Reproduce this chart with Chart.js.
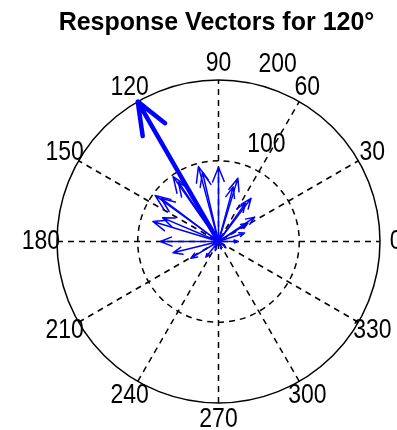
<!DOCTYPE html>
<html><head><meta charset="utf-8">
<script src="https://cdn.jsdelivr.net/npm/chart.js@4"></script>
<style>html,body{margin:0;padding:0;background:#fff}#wrap{width:397px;height:430px}</style>
</head><body><div id="wrap"><canvas id="c" width="397" height="430"></canvas></div>
<script>
const titleText = 'Response Vectors for 120\u00B0';
const mainAngle = [120];
const mainMagnitude = [200];
const vectorAngles     = [90, 105, 103, 125, 124, 144, 143, 163, 157, 180, 194, 211, 231, 73, 75, 53, 55, 34, 32, 18, 0, 250, 290, 320];
const vectorMagnitudes = [92,  96,  88,  98,  89,  97,  89,  85,  75,  72,  58,  40,  25, 82, 70, 67, 58, 54, 43, 34, 24, 12, 10, 12];
const ringValues = [100, 200];
const ringLabels = ['100', '200'];
const angleTicks = [0, 30, 60, 90, 120, 150, 180, 210, 240, 270, 300, 330];
const angleLabels = ['0', '30', '60', '90', '120', '150', '180', '210', '240', '270', '300', '330'];

const rMax = ringValues[ringValues.length - 1];
const deg = Math.PI / 180;

function arrowPoints(angle, mag) {
  const c = Math.cos(angle * deg), s = Math.sin(angle * deg);
  const pts = [[0, 0], [mag, 0], [0.8 * mag, 0.08 * mag], [mag, 0], [0.8 * mag, -0.08 * mag]];
  return pts.map(([u, v]) => ({ x: u * c - v * s, y: u * s + v * c }));
}

const datasets = [];
mainAngle.forEach((a, i) => datasets.push({
  data: arrowPoints(a, mainMagnitude[i]), showLine: true, borderColor: '#0000ff',
  borderWidth: 4.5, pointRadius: 0, borderJoinStyle: 'round', borderCapStyle: 'round', order: 0
}));
vectorAngles.forEach((a, i) => datasets.push({
  data: arrowPoints(a, vectorMagnitudes[i]), showLine: true, borderColor: '#0000ff',
  borderWidth: 1.5, pointRadius: 0, borderJoinStyle: 'round', order: 1
}));

const polarGrid = {
  id: 'polarGrid',
  beforeDatasetsDraw(chart) {
    const { ctx, scales: { x, y } } = chart;
    const cx = x.getPixelForValue(0), cy = y.getPixelForValue(0);
    const px = v => x.getPixelForValue(v) - cx;
    ctx.save();
    ctx.strokeStyle = '#000';
    ctx.lineWidth = 1.5;
    ctx.setLineDash([6, 5]);
    for (let a = 0; a < 180; a += 30) {
      const c = Math.cos(a * deg), s = Math.sin(a * deg);
      ctx.beginPath();
      ctx.moveTo(x.getPixelForValue(-rMax * c), y.getPixelForValue(-rMax * s));
      ctx.lineTo(x.getPixelForValue(rMax * c), y.getPixelForValue(rMax * s));
      ctx.stroke();
    }
    ringValues.forEach((r, i) => {
      ctx.setLineDash(i === ringValues.length - 1 ? [] : [6, 5]);
      ctx.beginPath();
      ctx.arc(cx, cy, px(r), 0, Math.PI * 2);
      ctx.stroke();
    });
    ctx.restore();
  },
  afterDraw(chart) {
    const { ctx, scales: { x, y } } = chart;
    ctx.save();
    ctx.fillStyle = '#000';
    ctx.font = '23px "Liberation Sans", Arial, sans-serif';
    const drawScaled = (txt, X, Y) => {
      ctx.save();
      ctx.translate(X, Y);
      ctx.scale(1, 1.2);
      ctx.fillText(txt, 0, 0);
      ctx.restore();
    };
    ctx.textAlign = 'center';
    ctx.textBaseline = 'middle';
    angleTicks.forEach((a, i) => {
      const r = 1.1 * rMax;
      drawScaled(angleLabels[i], x.getPixelForValue(r * Math.cos(a * deg)), y.getPixelForValue(r * Math.sin(a * deg)));
    });
    ctx.textAlign = 'left';
    ctx.textBaseline = 'alphabetic';
    const c82 = Math.cos(82 * deg), s82 = Math.sin(82 * deg);
    ringValues.forEach((r, i) => {
      drawScaled(ringLabels[i], x.getPixelForValue((r + 5) * c82 + 21), y.getPixelForValue((r + 5) * s82 + 7));
    });
    ctx.restore();
  }
};

new Chart(document.getElementById('c'), {
  type: 'scatter',
  data: { datasets },
  options: {
    responsive: false,
    devicePixelRatio: 1,
    animation: false,
    layout: { padding: { left: 36, right: 0, top: 0, bottom: 0 } },
    scales: {
      x: { type: 'linear', min: -226.0, max: 221.05, display: false },
      y: { type: 'linear', min: -233.4, max: 252.0, display: false }
    },
    plugins: {
      legend: { display: false },
      tooltip: { enabled: false },
      title: {
        display: true, text: titleText, color: '#000',
        font: { family: '"Liberation Sans", Arial, sans-serif', size: 25, weight: 'bold' },
        padding: { top: 8, bottom: 0 }
      }
    }
  },
  plugins: [polarGrid]
});
</script>
</body></html>
